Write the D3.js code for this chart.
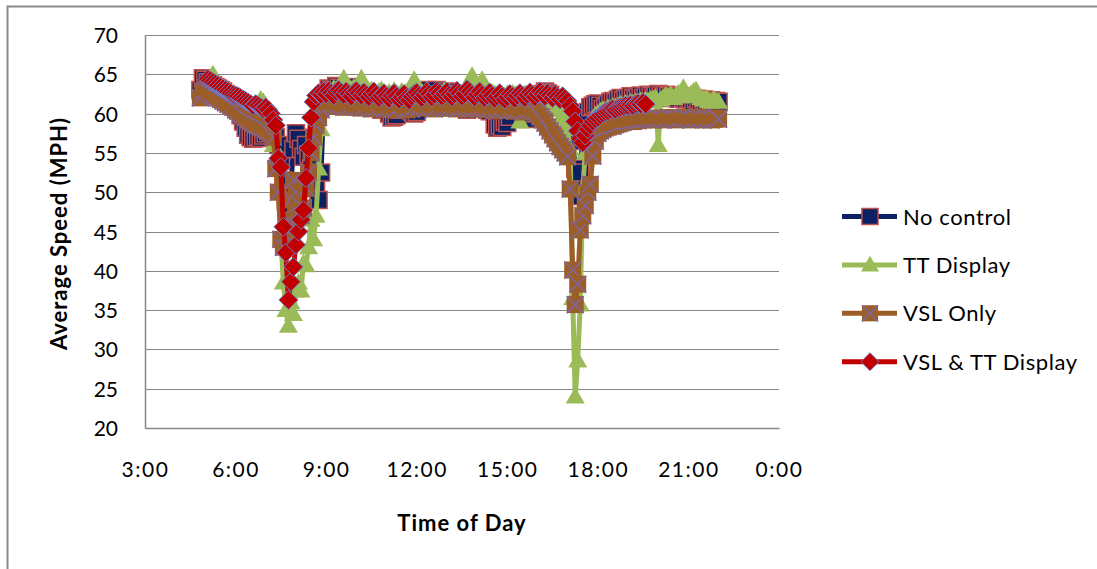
<!DOCTYPE html>
<html><head><meta charset="utf-8">
<script src="https://cdn.jsdelivr.net/npm/d3@7"></script>
<style>
body{margin:0;background:#fff}
svg{display:block}
text{font-family:Lato,"Open Sans",sans-serif;fill:#000}
</style>
</head><body>
<svg id="chart" width="1097" height="569"></svg>
<script>
// ---- data ----
const startHour = 4 + 50 / 60;   // first sample 4:50
const stepMinutes = 5;
const xTickHours = [3, 6, 9, 12, 15, 18, 21, 24];
const xTickLabels = ["3:00", "6:00", "9:00", "12:00", "15:00", "18:00", "21:00", "0:00"];
const yTicks = [20, 25, 30, 35, 40, 45, 50, 55, 60, 65, 70];
const seriesNames = ["No control", "TT Display", "VSL Only", "VSL & TT Display"];

const noControl = [
  63.0, 64.5,
  64.3, 64.0, 63.8, 63.6, 63.4, 63.2, 63.0, 62.8, 62.5, 62.2, 62.0, 61.7,
  61.2, 60.5, 59.8, 59.0, 58.2, 57.3, 57.0, 56.8, 57.0, 57.1, 56.9, 57.2,
  57.5, 57.8, 58.0, 57.5, 57.0, 56.0, 54.0, 51.5, 49.0, 48.0, 51.0, 55.5,
  57.5, 56.8, 55.5, 54.5, 56.0, 54.8, 53.0, 52.0, 50.5, 49.0, 52.5, 61.5,
  62.5, 63.2, 63.0, 62.8, 63.5, 63.3, 62.6, 63.0, 62.8, 63.4, 63.0, 62.5,
  62.8, 63.0, 62.5, 62.0, 62.6, 62.3, 61.8, 61.0, 60.8, 61.2, 60.5, 61.0,
  61.2, 60.0, 59.5, 59.6, 59.8, 60.5, 61.5, 62.0, 61.8, 61.0, 60.3, 60.0,
  60.2, 61.0, 62.0, 62.8, 63.0, 62.5, 62.2, 62.6, 63.0, 62.4, 62.0, 62.5,
  62.8, 62.3, 61.8, 62.0, 62.5, 62.2, 61.6, 61.0, 60.5, 60.8, 61.5, 62.0,
  62.3, 62.0, 61.8, 61.2, 60.5, 60.3, 60.8, 58.6, 58.2, 58.5, 58.3, 59.0,
  58.8, 59.6, 60.5, 61.3, 61.8, 61.5, 60.8, 59.6, 59.3, 60.0, 60.8, 61.5,
  62.0, 62.3, 62.5, 62.8, 62.6, 62.4, 62.0, 61.6, 61.3, 61.0, 60.8, 60.5,
  60.0, 59.0, 56.5, 53.0, 49.5, 52.5, 57.0, 59.0, 60.2, 60.8, 61.0, 61.2,
  61.3, 61.0, 60.6, 60.8, 61.2, 61.5, 61.6, 61.5, 61.8, 62.0, 61.7, 61.9,
  62.0, 62.2, 62.0, 61.8, 62.1, 62.3, 62.0, 62.2, 62.4, 62.2, 62.0, 62.3,
  62.5, 62.3, 62.1, 62.4, 62.2, 62.0, 62.3, 62.1, 61.9, 62.2, 62.0, 61.8,
  62.0, 61.8, 61.6, 61.9, 61.7, 61.5, 61.8, 61.6, 61.4, 61.7, 61.5, 61.6,
  61.5
];
const ttDisplay = [
  62.8, 63.5,
  64.0, 64.3, 64.6, 65.0, 64.4, 63.8, 63.5, 63.2, 63.0, 62.7, 62.4, 62.1,
  61.8, 61.5, 61.2, 61.0, 60.7, 60.5, 60.3, 60.6, 61.0, 61.3, 61.8, 61.5,
  61.0, 60.2, 59.5, 56.0, 54.5, 50.5, 44.0, 38.5, 35.0, 33.0, 36.0, 34.5,
  37.5, 38.5, 37.5, 41.0, 40.7, 43.0, 46.5, 44.0, 47.0, 53.0, 58.0, 61.5,
  62.5, 63.0, 62.6, 63.2, 63.0, 62.8, 63.4, 64.5, 63.2, 62.8, 63.0, 63.3,
  63.0, 62.8, 64.5, 63.3, 62.8, 62.6, 63.0, 62.7, 62.5, 62.8, 63.0, 62.6,
  62.4, 62.7, 62.5, 62.9, 62.6, 62.3, 62.8, 62.5, 62.7, 62.4, 62.6, 64.3,
  62.8, 62.5, 62.7, 62.4, 62.9, 62.6, 62.3, 62.5, 62.8, 62.4, 62.6, 62.9,
  62.5, 62.7, 62.3, 62.6, 62.8, 62.5, 62.4, 62.7, 62.9, 62.6, 64.8, 63.0,
  62.7, 62.5, 64.3, 62.8, 62.6, 62.4, 62.7, 62.5, 62.3, 62.6, 62.4, 62.2,
  62.5, 62.3, 62.6, 62.4, 62.2, 59.0, 62.3, 62.5, 62.4, 62.2, 62.5, 62.3,
  62.6, 62.4, 62.2, 62.5, 62.3, 62.0, 61.8, 61.5, 61.0, 60.5, 59.8, 59.0,
  58.0, 55.5, 36.5, 24.0, 28.6, 35.7, 50.5, 55.0, 57.5, 58.5, 59.3, 59.8,
  60.0, 60.3, 60.5, 60.4, 60.7, 60.6, 60.9, 60.8, 61.0, 61.2, 61.0, 61.3,
  61.2, 61.4, 61.3, 61.5, 61.4, 61.6, 61.5, 61.7, 61.6, 61.8, 61.9, 62.0,
  56.0, 61.8, 62.0, 62.3, 62.1, 62.4, 62.0, 62.3, 62.6, 62.2, 63.3, 62.5,
  62.2, 62.5, 62.8, 63.0, 62.4, 62.0, 61.8, 62.0, 61.6, 61.5, 61.8, 61.6,
  61.5
];
const vslOnly = [
  62.0, 62.8,
  63.0, 62.8, 62.6, 62.4, 62.2, 62.0, 61.8, 61.6, 61.4, 61.2, 61.0, 60.8,
  60.5, 60.3, 60.0, 59.8, 59.5, 59.2, 59.0, 58.8, 58.6, 58.5, 58.3, 58.2,
  58.0, 57.8, 57.5, 57.0, 53.0, 50.0, 44.0, 43.0, 44.5, 46.5, 49.0, 51.5,
  50.0, 48.5, 47.0, 48.0, 50.5, 52.5, 55.0, 57.0, 58.5, 59.5, 60.5, 61.0,
  61.2, 61.0, 61.3, 61.1, 60.9, 61.2, 61.0, 60.8, 61.1, 60.9, 61.2, 61.0,
  60.8, 61.0, 60.7, 60.9, 61.1, 60.8, 60.6, 60.9, 60.7, 61.0, 60.8, 60.6,
  60.9, 60.7, 60.5, 60.8, 60.6, 60.9, 61.0, 60.7, 60.5, 60.8, 60.6, 60.9,
  61.0, 60.8, 61.1, 60.9, 60.7, 61.0, 60.8, 60.6, 60.9, 61.1, 60.8, 60.7,
  60.9, 60.7, 61.0, 60.8, 60.6, 60.9, 60.7, 61.0, 60.8, 60.6, 60.9, 60.7,
  60.8, 60.6, 60.9, 60.7, 60.5, 60.8, 60.6, 60.4, 60.7, 60.5, 60.8, 60.6,
  60.4, 60.7, 60.5, 60.3, 60.6, 60.4, 60.2, 60.5, 60.3, 60.6, 60.4, 60.2,
  60.0, 59.6, 59.2, 58.8, 58.3, 57.8, 57.3, 56.8, 56.3, 55.8, 55.4, 55.0,
  54.5, 50.4, 40.1, 35.7, 38.3, 45.2, 47.0, 48.3, 50.0, 51.0, 54.6, 56.5,
  57.5, 57.8, 58.0, 58.2, 58.3, 58.5, 58.4, 58.6, 58.7, 58.8, 58.9, 59.0,
  59.0, 59.1, 59.0, 59.2, 59.1, 59.3, 59.2, 59.3, 59.4, 59.3, 59.2, 59.4,
  59.3, 59.4, 59.2, 59.3, 59.5, 59.3, 59.4, 59.2, 59.3, 59.5, 59.4, 59.3,
  59.4, 59.2, 59.3, 59.5, 59.3, 59.4, 59.2, 59.3, 59.4, 59.2, 59.3, 59.4,
  59.3
];
const vslTtDisplay = [
  null, null,
  null, 64.4, 64.2, 64.0, 63.8, 63.6, 63.4, 63.2, 63.0, 62.8, 62.6, 62.4,
  62.3, 62.2, 62.0, 61.8, 61.6, 61.4, 61.2, 61.0, 61.2, 61.0, 60.8, 60.6,
  60.8, 60.5, 60.0, 59.2, 58.5, 54.3, 53.2, 45.6, 42.3, 36.3, 38.6, 40.5,
  43.3, 45.0, 46.5, 47.7, 51.8, 55.6, 59.5, 61.5, 62.3, 62.6, 62.4, 62.8,
  62.5, 62.9, 62.6, 62.3, 62.8, 63.0, 62.7, 62.4, 62.8, 62.5, 62.2, 62.7,
  62.9, 62.6, 62.3, 62.7, 62.4, 62.1, 62.5, 62.8, 62.4, 62.0, 62.3, 62.6,
  62.2, 61.9, 62.3, 62.6, 62.2, 61.8, 62.1, 62.5, 62.0, 61.7, 62.2, 62.5,
  62.7, 62.3, 62.0, 62.4, 62.8, 62.5, 62.1, 62.4, 62.9, 62.6, 62.2, 62.5,
  62.8, 62.4, 62.1, 62.5, 62.9, 62.6, 62.2, 62.5, 63.1, 62.8, 62.4, 62.1,
  62.5, 62.8, 62.4, 62.0, 62.3, 62.7, 62.3, 61.9, 62.2, 62.6, 62.2, 61.8,
  62.1, 62.5, 62.2, 61.9, 62.3, 62.6, 62.3, 62.0, 62.4, 62.7, 62.4, 62.1,
  62.5, 62.8, 62.5, 62.2, 62.6, 62.3, 62.0, 62.4, 62.1, 61.8, 62.2, 61.9,
  61.6, 61.0, 60.3, 59.0, 57.8, 56.8, 56.3, 57.2, 58.0, 58.5, 59.0, 59.3,
  59.5, 59.8, 60.0, 60.2, 60.3, 60.5, 60.6, 60.5, 60.7, 60.8, 60.9, 61.0,
  61.0, 61.1, 61.0, 61.2, 61.3, 61.2, 61.4, 61.2, null, null, null, null,
  null, null, null, null, null, null, null, null, null, null, null, null,
  null, null, null, null, null, null, null, null, null, null, null, null,
  null
];

// ---- drawing ----
const svg = d3.select("#chart");
const W = 1097, H = 569;
const plot = {left: 145, right: 779, top: 35, bottom: 428};

const x = d3.scaleLinear().domain([3, 24]).range([plot.left, plot.right]);
const y = d3.scaleLinear().domain([20, 70]).range([plot.bottom, plot.top]);

// outer chart border
svg.append("rect").attr("x", 7.5).attr("y", 6.5).attr("width", W + 20).attr("height", H + 20)
  .attr("fill", "none").attr("stroke", "#8a8a8a").attr("stroke-width", 2);

// gridlines
svg.append("g").selectAll("line").data(yTicks.filter(v => v > 20)).join("line")
  .attr("x1", plot.left).attr("x2", plot.right)
  .attr("y1", d => Math.round(y(d)) + 0.5).attr("y2", d => Math.round(y(d)) + 0.5)
  .attr("stroke", "#878787").attr("stroke-width", 1.2);

// axes
const yAxis = d3.axisLeft(y).tickValues(yTicks).tickSize(0).tickPadding(27).tickFormat(d3.format("d"));
const gy = svg.append("g").attr("transform", `translate(${plot.left},0)`).call(yAxis);
gy.select(".domain").attr("stroke", "#878787").attr("stroke-width", 1.5);
gy.selectAll("text").attr("font-size", 21).attr("font-family", "Lato").attr("dy", "0.36em");

const xAxis = d3.axisBottom(x).tickValues(xTickHours).tickSize(0).tickPadding(34)
  .tickFormat((d, i) => xTickLabels[i]);
const gx = svg.append("g").attr("transform", `translate(0,${plot.bottom})`).call(xAxis);
gx.select(".domain").attr("stroke", "#878787").attr("stroke-width", 1.5);
gx.selectAll("text").attr("font-size", 21).attr("font-family", "Lato").attr("letter-spacing", "1.5px");

// axis titles
svg.append("text").attr("x", (plot.left + plot.right) / 2).attr("y", 531)
  .attr("text-anchor", "middle").attr("font-weight", "bold").attr("font-size", 22)
  .attr("letter-spacing", "1px").text("Time of Day");
svg.append("text").attr("transform", `translate(67,${(plot.top + plot.bottom) / 2 + 2}) rotate(-90)`)
  .attr("text-anchor", "middle").attr("font-weight", "bold").attr("font-size", 22)
  .attr("letter-spacing", "1px").text("Average Speed (MPH)");

// series styles
const styles = [
  {data: noControl, line: "#0b2163", shape: "square", fill: "#0b2163", stroke: "#c0504d", sw: 1.5},
  {data: ttDisplay, line: "#9bbb59", shape: "triangle", fill: "#9bbb59", stroke: "none", sw: 0},
  {data: vslOnly, line: "#9c5e28", shape: "xsquare", fill: "#9c5e28", stroke: "#8064a2", sw: 1.5},
  {data: vslTtDisplay, line: "#c00000", shape: "diamond", fill: "#c00000", stroke: "#6f7fc6", sw: 1}
];

function markerPath(shape) {
  if (shape === "square" || shape === "xsquare") return "M-8.5,-8.5H8.5V8.5H-8.5Z";
  if (shape === "triangle") return "M0,-9.5L9.5,7L-9.5,7Z";
  if (shape === "diamond") return "M0,-9.5L9.5,0L0,9.5L-9.5,0Z";
}
function drawMarker(g, s) {
  g.append("path").attr("d", markerPath(s.shape)).attr("fill", s.fill)
    .attr("stroke", s.shape === "xsquare" ? "none" : s.stroke).attr("stroke-width", s.sw);
  if (s.shape === "xsquare") {
    g.append("path").attr("d", "M-8.5,-8.5L8.5,8.5M8.5,-8.5L-8.5,8.5")
      .attr("stroke", s.stroke).attr("stroke-width", s.sw).attr("fill", "none");
  }
}

const line = d3.line().defined(d => d.v != null).x(d => x(d.t)).y(d => y(d.v));

styles.forEach(s => {
  const pts = s.data.map((v, i) => ({t: startHour + i * stepMinutes / 60, v}));
  const g = svg.append("g");
  g.append("path").datum(pts).attr("d", line).attr("fill", "none")
    .attr("stroke", s.line).attr("stroke-width", 5).attr("stroke-linejoin", "round");
  g.selectAll("g.m").data(pts.filter(p => p.v != null)).join("g").attr("class", "m")
    .attr("transform", d => `translate(${x(d.t)},${y(d.v)})`)
    .each(function () { drawMarker(d3.select(this), s); });
});

// legend
const legend = svg.append("g");
seriesNames.forEach((name, i) => {
  const s = styles[i];
  const cy = 216.5 + i * 48.4;
  legend.append("line").attr("x1", 842).attr("x2", 897).attr("y1", cy).attr("y2", cy)
    .attr("stroke", s.line).attr("stroke-width", 5);
  const mg = legend.append("g").attr("transform", `translate(870,${cy}) scale(0.95)`);
  drawMarker(mg, s);
  legend.append("text").attr("x", 903).attr("y", cy + 8).attr("font-size", 22)
    .attr("letter-spacing", "0.6px").text(name);
});
</script>
</body></html>
